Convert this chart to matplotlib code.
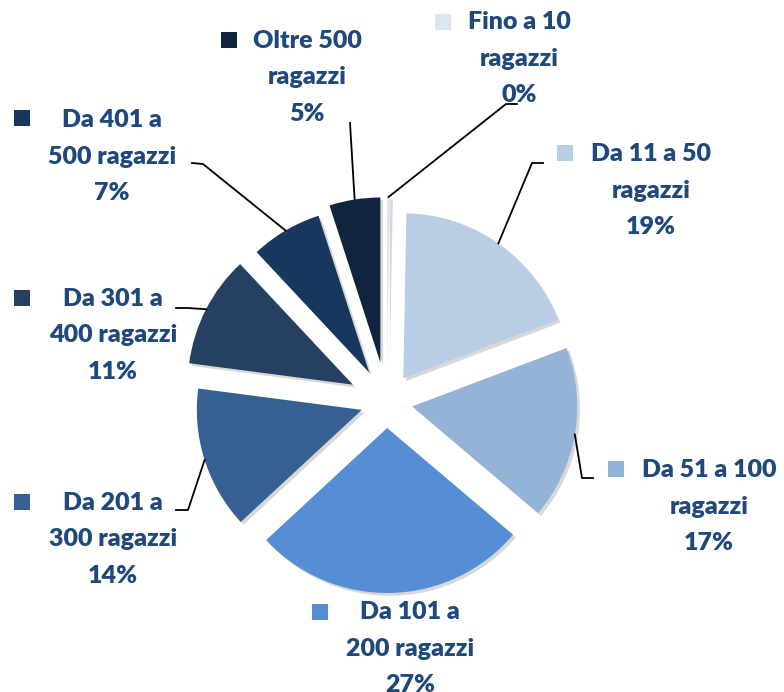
import numpy as np
import matplotlib
matplotlib.use('Agg')
import matplotlib.pyplot as plt

W, H = 784, 692

# data
categories = ['Fino a 10\nragazzi', 'Da 11 a 50\nragazzi', 'Da 51 a 100\nragazzi',
              'Da 101 a\n200 ragazzi', 'Da 201 a\n300 ragazzi', 'Da 301 a\n400 ragazzi',
              'Da 401 a\n500 ragazzi', 'Oltre 500\nragazzi']
percent = [0.3, 19, 17, 27, 14, 11, 7, 5]

colors = ['#dce6f2', '#b9cde5', '#95b3d7', '#558ed5',
          '#376092', '#254061', '#17375e', '#10243e']
text_color = '#1f497d'

# layout, in pixels from top-left
radius = 165
center_px = (386.6, 402)
explode_px = [40, 29, 26, 26, 26, 38, 34, 40]
label_pos = [(519, 22), (651, 154), (709, 470), (410, 612),
             (113, 503), (113, 299), (112, 120), (307, 41)]
square_pos = [(443, 22), (565, 153), (616, 469), (320, 612),
              (22, 502), (22, 298), (22, 118), (229, 40)]
# leader start and elbow (None = no leader)
leaders = [((517, 104), (506, 104)), ((543, 163), (532, 163)),
           ((593, 478), (582, 478)), None,
           ((176, 510), (188, 510)), ((176, 308), (188, 308)),
           ((192, 163), (203, 164)), ((350, 123), (350, 123))]
line_pitch = 36.5


def px(x, y):
    return x, H - y


fig = plt.figure(figsize=(W / 100, H / 100), dpi=100)
ax = fig.add_axes([0, 0, 1, 1])

# note: explode is in data units here (1 unit = 1 px)
wedges, _ = ax.pie(percent, colors=colors, startangle=90, counterclock=False,
                   radius=radius, center=px(*center_px), explode=explode_px,
                   shadow={'ox': 2.0, 'oy': -2.0, 'facecolor': '#7f7f7f',
                           'edgecolor': 'none', 'alpha': 0.3},
                   wedgeprops={'linewidth': 0})
ax.set_xlim(0, W)
ax.set_ylim(0, H)
ax.axis('off')

font = dict(family=['Lato', 'DejaVu Sans'], fontsize=18, fontweight='heavy',
            color=text_color)

for i, w in enumerate(wedges):
    lines = categories[i].split('\n') + [f'{percent[i]:.0f}%']
    lx, ly = label_pos[i]
    for k, line in enumerate(lines):
        ax.text(*px(lx, ly + k * line_pitch), line, ha='center', va='center', **font)
    ax.scatter(*px(*square_pos[i]), marker='s', s=125, color=colors[i],
               linewidths=0, zorder=5)

    if leaders[i] is not None:
        mid = np.deg2rad((w.theta1 + w.theta2) / 2)
        cx, cy = w.center
        tip = (cx + radius * np.cos(mid), cy + radius * np.sin(mid))
        start, elbow = leaders[i]
        xs = [px(*start)[0], px(*elbow)[0], tip[0]]
        ys = [px(*start)[1], px(*elbow)[1], tip[1]]
        ax.plot(xs, ys, color='black', linewidth=1.3, zorder=4)

fig.savefig('out.png', dpi=100)
